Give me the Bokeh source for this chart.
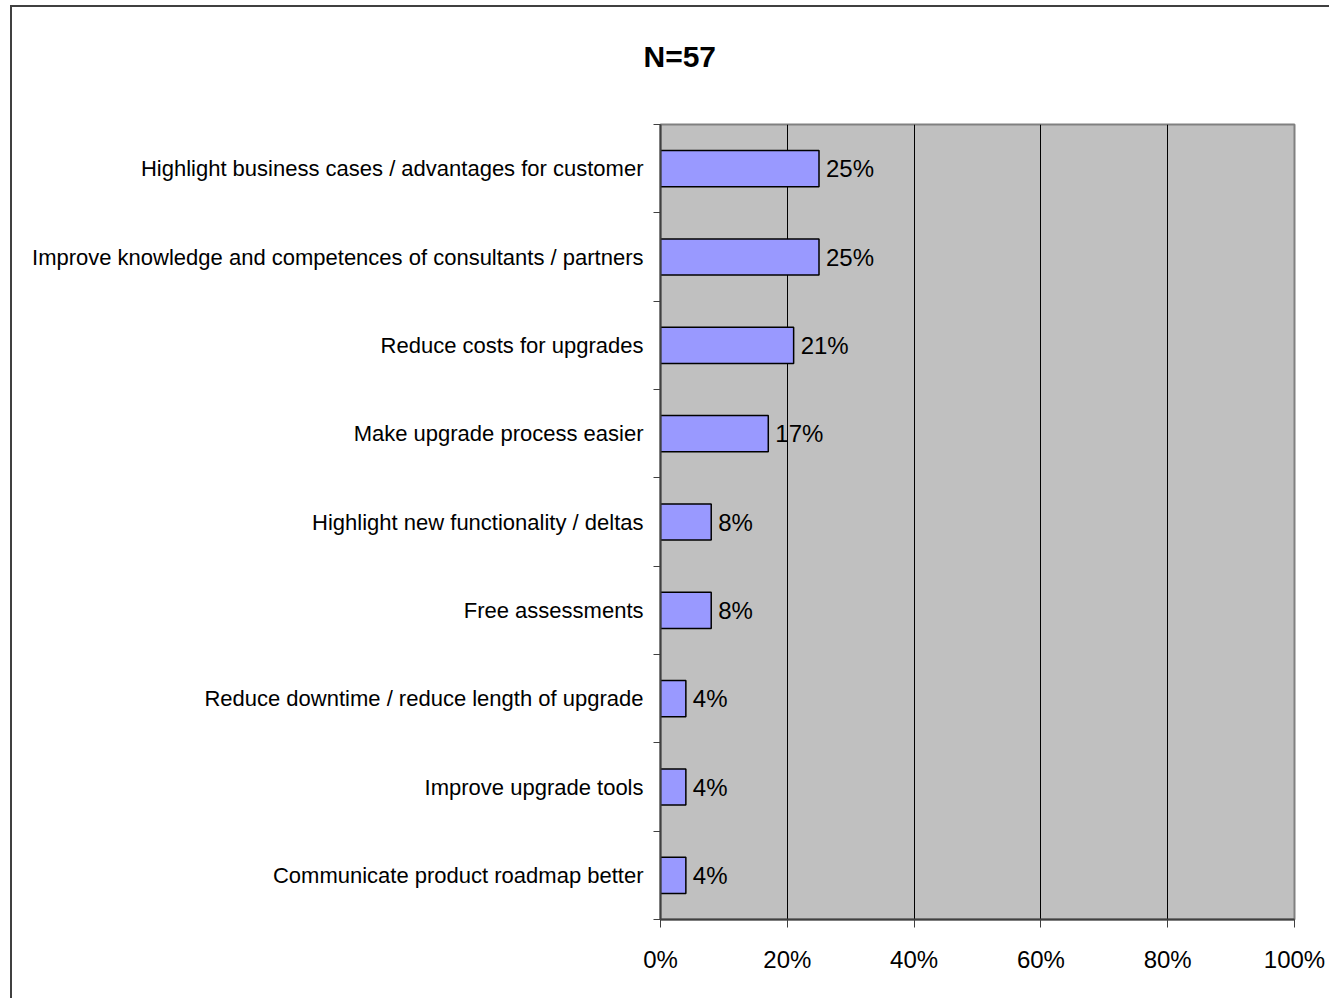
from bokeh.plotting import figure
from bokeh.models import Range1d, FixedTicker, ColumnDataSource
from bokeh.core.properties import value
from bokeh.embed import file_html
from bokeh.resources import INLINE

categories = [
    "Highlight business cases / advantages for customer",
    "Improve knowledge and competences of consultants / partners",
    "Reduce costs for upgrades",
    "Make upgrade process easier",
    "Highlight new functionality / deltas",
    "Free assessments",
    "Reduce downtime / reduce length of upgrade",
    "Improve upgrade tools",
    "Communicate product roadmap better",
]
values = [25, 25, 21, 17, 8, 8, 4, 4, 4]
value_labels = ["25%", "25%", "21%", "17%", "8%", "8%", "4%", "4%", "4%"]
x_ticks = [0, 20, 40, 60, 80, 100]
x_tick_labels = ["0%", "20%", "40%", "60%", "80%", "100%"]
title_text = "N=57"

FONT = "Liberation Sans"
n = len(categories)
pos = [i + 0.5 for i in range(n)]

src = ColumnDataSource(dict(y=pos, v=values, lab=value_labels, cat=categories))

p = figure(
    frame_width=634, frame_height=795,
    min_border_left=648, min_border_top=117, min_border_right=35, min_border_bottom=79,
    x_range=Range1d(0, 100), y_range=Range1d(n, 0),
    output_backend="svg", toolbar_location=None,
    title=title_text,
)
p.styles = {"margin-left": "10px", "margin-top": "5px",
            "border-left": "2px solid #404040", "border-top": "2px solid #404040"}

p.title.align = "left"
p.title.offset = -17
p.title.text_font = FONT
p.title.text_font_size = "30px"
p.title.text_font_style = "bold"
p.title.text_color = "black"
try:
    p.title.padding = dict(left=0, right=0, top=0, bottom=52)
    p.title.standoff = 0
except Exception:
    p.title.standoff = 80

p.background_fill_color = "#C0C0C0"
p.border_fill_color = "white"
p.outline_line_color = "#808080"
p.outline_line_width = 2

p.hbar(y="y", right="v", left=0, height=0.41, source=src,
       fill_color="#9999FF", line_color="black", line_width=1.5)
p.text(x="v", y="y", text="lab", source=src, x_offset=7,
       text_baseline="middle", text_align="left",
       text_font=value(FONT), text_font_size="24px", text_color="black")

# grid
p.ygrid.visible = False
p.xgrid.ticker = FixedTicker(ticks=x_ticks[1:-1])
p.xgrid.grid_line_color = "black"
p.xgrid.grid_line_width = 1

# x axis
xa = p.xaxis[0]
xa.ticker = FixedTicker(ticks=x_ticks)
xa.major_label_overrides = {t: l for t, l in zip(x_ticks, x_tick_labels)}
xa.major_tick_out = 8
xa.major_tick_in = 0
xa.minor_tick_line_color = None
xa.axis_line_color = "#404040"
xa.axis_line_width = 2
xa.major_tick_line_color = "#404040"
xa.major_label_text_font = FONT
xa.major_label_text_font_size = "24px"
xa.major_label_text_color = "black"
xa.major_label_standoff = 18

# y axis
ya = p.yaxis[0]
ya.ticker = FixedTicker(ticks=pos, minor_ticks=list(range(n + 1)))
ya.major_label_overrides = {pp: c for pp, c in zip(pos, categories)}
ya.major_tick_out = 0
ya.major_tick_in = 0
ya.major_tick_line_color = None
ya.minor_tick_out = 7
ya.minor_tick_in = 0
ya.minor_tick_line_color = "#404040"
ya.axis_line_color = "#404040"
ya.axis_line_width = 2
ya.major_label_text_font = FONT
ya.major_label_text_font_size = "22px"
ya.major_label_text_color = "black"
ya.major_label_standoff = 10

open("out.html", "w").write(file_html(p, INLINE))
